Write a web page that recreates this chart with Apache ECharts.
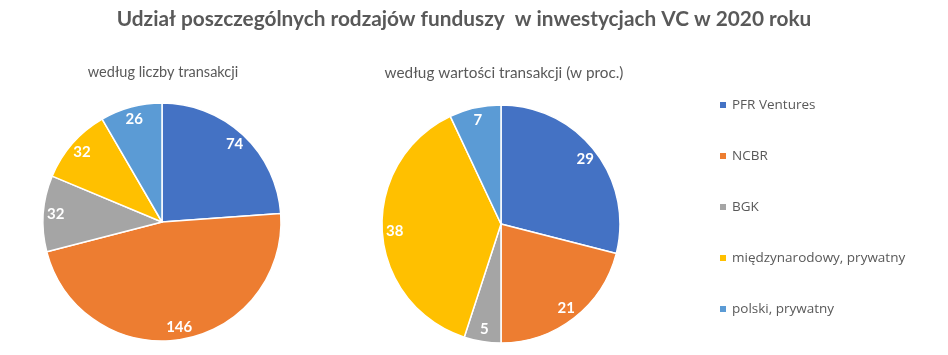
<!DOCTYPE html>
<html><head><meta charset="utf-8">
<script src="https://cdn.jsdelivr.net/npm/echarts@6/dist/echarts.min.js"></script>
<style>html,body{margin:0;padding:0;background:#fff}#c{width:948px;height:355px}</style>
</head><body><div id="c"></div>
<script>
const categories = ['PFR Ventures', 'NCBR', 'BGK', 'międzynarodowy, prywatny', 'polski, prywatny'];
const countValues = [74, 146, 32, 32, 26];
const valueShares = [29, 21, 5, 38, 7];
const colors = ['#4472C4', '#ED7D31', '#A5A5A5', '#FFC000', '#5B9BD5'];
const mainTitle = 'Udział poszczególnych rodzajów funduszy  w inwestycjach VC w 2020 roku';
const leftTitle = 'według liczby transakcji';
const rightTitle = 'według wartości transakcji (w proc.)';

const FONT = 'Lato, "Open Sans", sans-serif';
const FONT2 = '"Open Sans", Lato, sans-serif';
const R = 119;
function toData(vals){ return categories.map((n,i)=>({name:n, value:vals[i]})); }
function pieBase(vals, cx, cy){
  return {
    type:'pie', center:[cx,cy], radius:[0,R], startAngle:90, clockwise:true,
    data:toData(vals), label:{show:false}, labelLine:{show:false},
    itemStyle:{borderColor:'#fff', borderWidth:1.5}, emphasis:{disabled:true}, animation:false
  };
}
function pieLabels(vals, cx, cy){
  return {
    type:'pie', center:[cx,cy], radius:[R*0.74,R], startAngle:90, clockwise:true,
    data:toData(vals), silent:true, legendHoverLink:false,
    itemStyle:{color:'rgba(0,0,0,0)', borderWidth:0},
    label:{show:true, position:'inside', formatter:'{c}', color:'#fff', fontWeight:'bold', fontSize:15, fontFamily:FONT},
    labelLine:{show:false}, emphasis:{disabled:true}, animation:false
  };
}
const chart = echarts.init(document.getElementById('c'), null, {renderer:'canvas'});
chart.setOption({
  animation:false,
  color: colors,
  title:[
    {text:mainTitle, left:459, top:4, textAlign:'center', textStyle:{fontFamily:FONT, fontSize:20.8, fontWeight:'bold', color:'#595959'}},
    {text:leftTitle, left:158, top:60, textAlign:'center', textStyle:{fontFamily:FONT, fontSize:14.5, fontWeight:'normal', color:'#595959'}},
    {text:rightTitle, left:499, top:61, textAlign:'center', textStyle:{fontFamily:FONT, fontSize:15.3, fontWeight:'normal', color:'#595959'}}
  ],
  legend:{
    orient:'vertical', left:713, top:93, data:categories,
    icon:'rect', itemWidth:8, itemHeight:8, itemGap:37,
    textStyle:{fontFamily:FONT2, fontSize:13.5, color:'#595959', lineHeight:14}
  },
  series:[
    pieBase(countValues, 162, 222), pieLabels(countValues, 162, 222),
    pieBase(valueShares, 501, 224), pieLabels(valueShares, 501, 224)
  ]
});
</script></body></html>
